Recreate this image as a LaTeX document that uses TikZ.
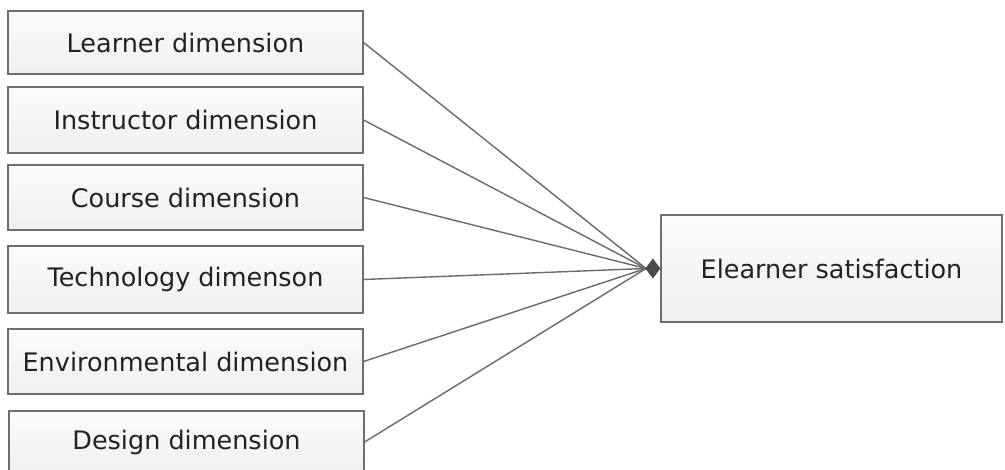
\documentclass[tikz,border=0pt]{standalone}
\usepackage{fontspec}
\setmainfont{DejaVu Sans}
\usetikzlibrary{arrows.meta}
\definecolor{boxline}{HTML}{6E6E6E}
\definecolor{linkline}{HTML}{6A6A6A}
\definecolor{txt}{HTML}{222222}
\definecolor{tipfill}{HTML}{4A4A4A}
\tikzset{
  dimbox/.style={draw=boxline, line width=1.2pt, top color=gray!3, bottom color=gray!12,
    minimum width=355pt, text=txt, font=\fontsize{25.5}{30}\selectfont, inner sep=0pt},
  goalbox/.style={draw=boxline, line width=1.2pt, top color=gray!3, bottom color=gray!12,
    minimum width=341pt, minimum height=107pt, text=txt, font=\fontsize{25.5}{30}\selectfont, inner sep=0pt},
  link/.style={draw=linkline, line width=1.4pt},
  headtip/.style={draw=tipfill, line width=1pt, -{Diamond[length=15pt,width=20pt,fill=tipfill]}}
}
\begin{document}
\begin{tikzpicture}[x=1pt,y=-1pt]
  \path[use as bounding box, clip] (0,0) rectangle (1005,470);
  \fill[white] (0,0) rectangle (1005,470);

  % predictor boxes
  \node[dimbox, minimum height=63pt] (b1) at (185.5,42.5) {Learner dimension};
  \node[dimbox, minimum height=66pt] (b2) at (185.5,120) {Instructor dimension};
  \node[dimbox, minimum height=65pt] (b3) at (185.5,197.5) {Course dimension};
  \node[dimbox, minimum height=67pt] (b4) at (185.5,279.5) {Technology dimenson};
  \node[dimbox, minimum height=65pt] (b5) at (185.5,361.5) {Environmental dimension};
  \node[dimbox, minimum height=62pt] (b6) at (186.5,442) {Design dimension};

  % outcome box
  \node[goalbox] (sat) at (831.5,268.5) {Elearner satisfaction};

  % converging links
  \coordinate (hub) at (646,268.5);
  \foreach \b in {b1,b2,b3,b4,b5,b6}
    \draw[link] (\b.east) -- (hub);
  \draw[headtip] (hub) -- (sat.west);
\end{tikzpicture}
\end{document}
